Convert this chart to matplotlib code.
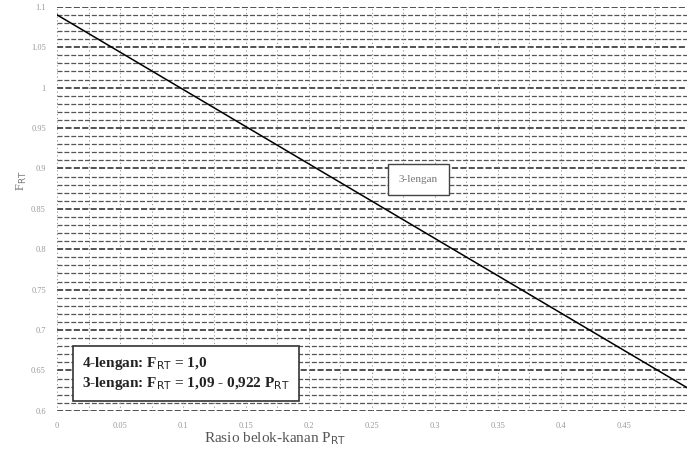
import matplotlib
matplotlib.use("Agg")
import matplotlib.pyplot as plt
import numpy as np

# data
p_rt = [0.0, 0.5]
f_rt = [1.09, 0.629]
x_ticks = [0, 0.05, 0.1, 0.15, 0.2, 0.25, 0.3, 0.35, 0.4, 0.45, 0.5]
x_labels = ["0", "0.05", "0.1", "0.15", "0.2", "0.25", "0.3", "0.35", "0.4", "0.45", ""]
y_ticks = [0.6, 0.65, 0.7, 0.75, 0.8, 0.85, 0.9, 0.95, 1.0, 1.05, 1.1]
y_labels = ["0.6", "0.65", "0.7", "0.75", "0.8", "0.85", "0.9", "0.95", "1", "1.05", "1.1"]

plt.rcParams["font.family"] = ["Liberation Serif", "DejaVu Serif"]

fig = plt.figure(figsize=(6.88, 4.55), dpi=100)
ax = fig.add_axes([0.083, 0.097, 0.915, 0.888])
ax.set_xlim(0, 0.5)
ax.set_ylim(0.6, 1.1)

# dense scanned-style grid
for y in np.arange(0.6, 1.1001, 0.01):
    major = abs(round(y / 0.05) * 0.05 - y) < 1e-6
    ax.axhline(y, color="#222222" if major else "#555555",
               lw=1.1 if major else 0.9, ls=(0, (4, 1.5)), zorder=1)
for x in np.arange(0, 0.5001, 0.025):
    ax.axvline(x, color="#888888", lw=0.6, ls=(0, (1.5, 3)), zorder=1)

ax.plot(p_rt, f_rt, color="black", lw=1.1, zorder=3)

ax.set_xticks(x_ticks)
ax.set_xticklabels(x_labels, fontsize=6, color="#999999")
ax.set_yticks(y_ticks)
ax.set_yticklabels(y_labels, fontsize=6, color="#999999")
ax.tick_params(length=0, pad=8)
for s in ax.spines.values():
    s.set_visible(False)

ax.set_ylabel(r"F$_{\rm RT}$", fontsize=9, color="#777777")
ax.yaxis.set_label_coords(-0.045, 0.57)
fig.text(0.40, 0.035, r"Rasio belok-kanan P$_{\rm RT}$", fontsize=11,
         color="#555555", ha="center", va="center")

ax.text(0.287, 0.886, "3-lengan", fontsize=8, color="#777777", ha="center", va="center",
        zorder=4, bbox=dict(boxstyle="square,pad=1.0", facecolor="white",
                            edgecolor="#444444", lw=1))

ax.text(0.020, 0.646,
        "4-lengan: F$_{\\rm RT}$ = 1,0\n3-lengan: F$_{\\rm RT}$ = 1,09 - 0,922 P$_{\\rm RT}$",
        fontsize=11, fontweight="bold", color="#222222", ha="left", va="center",
        linespacing=1.25, zorder=4,
        bbox=dict(boxstyle="square,pad=0.6", facecolor="white", edgecolor="#333333", lw=1.2))

fig.savefig("out.png", dpi=100, facecolor="white")
